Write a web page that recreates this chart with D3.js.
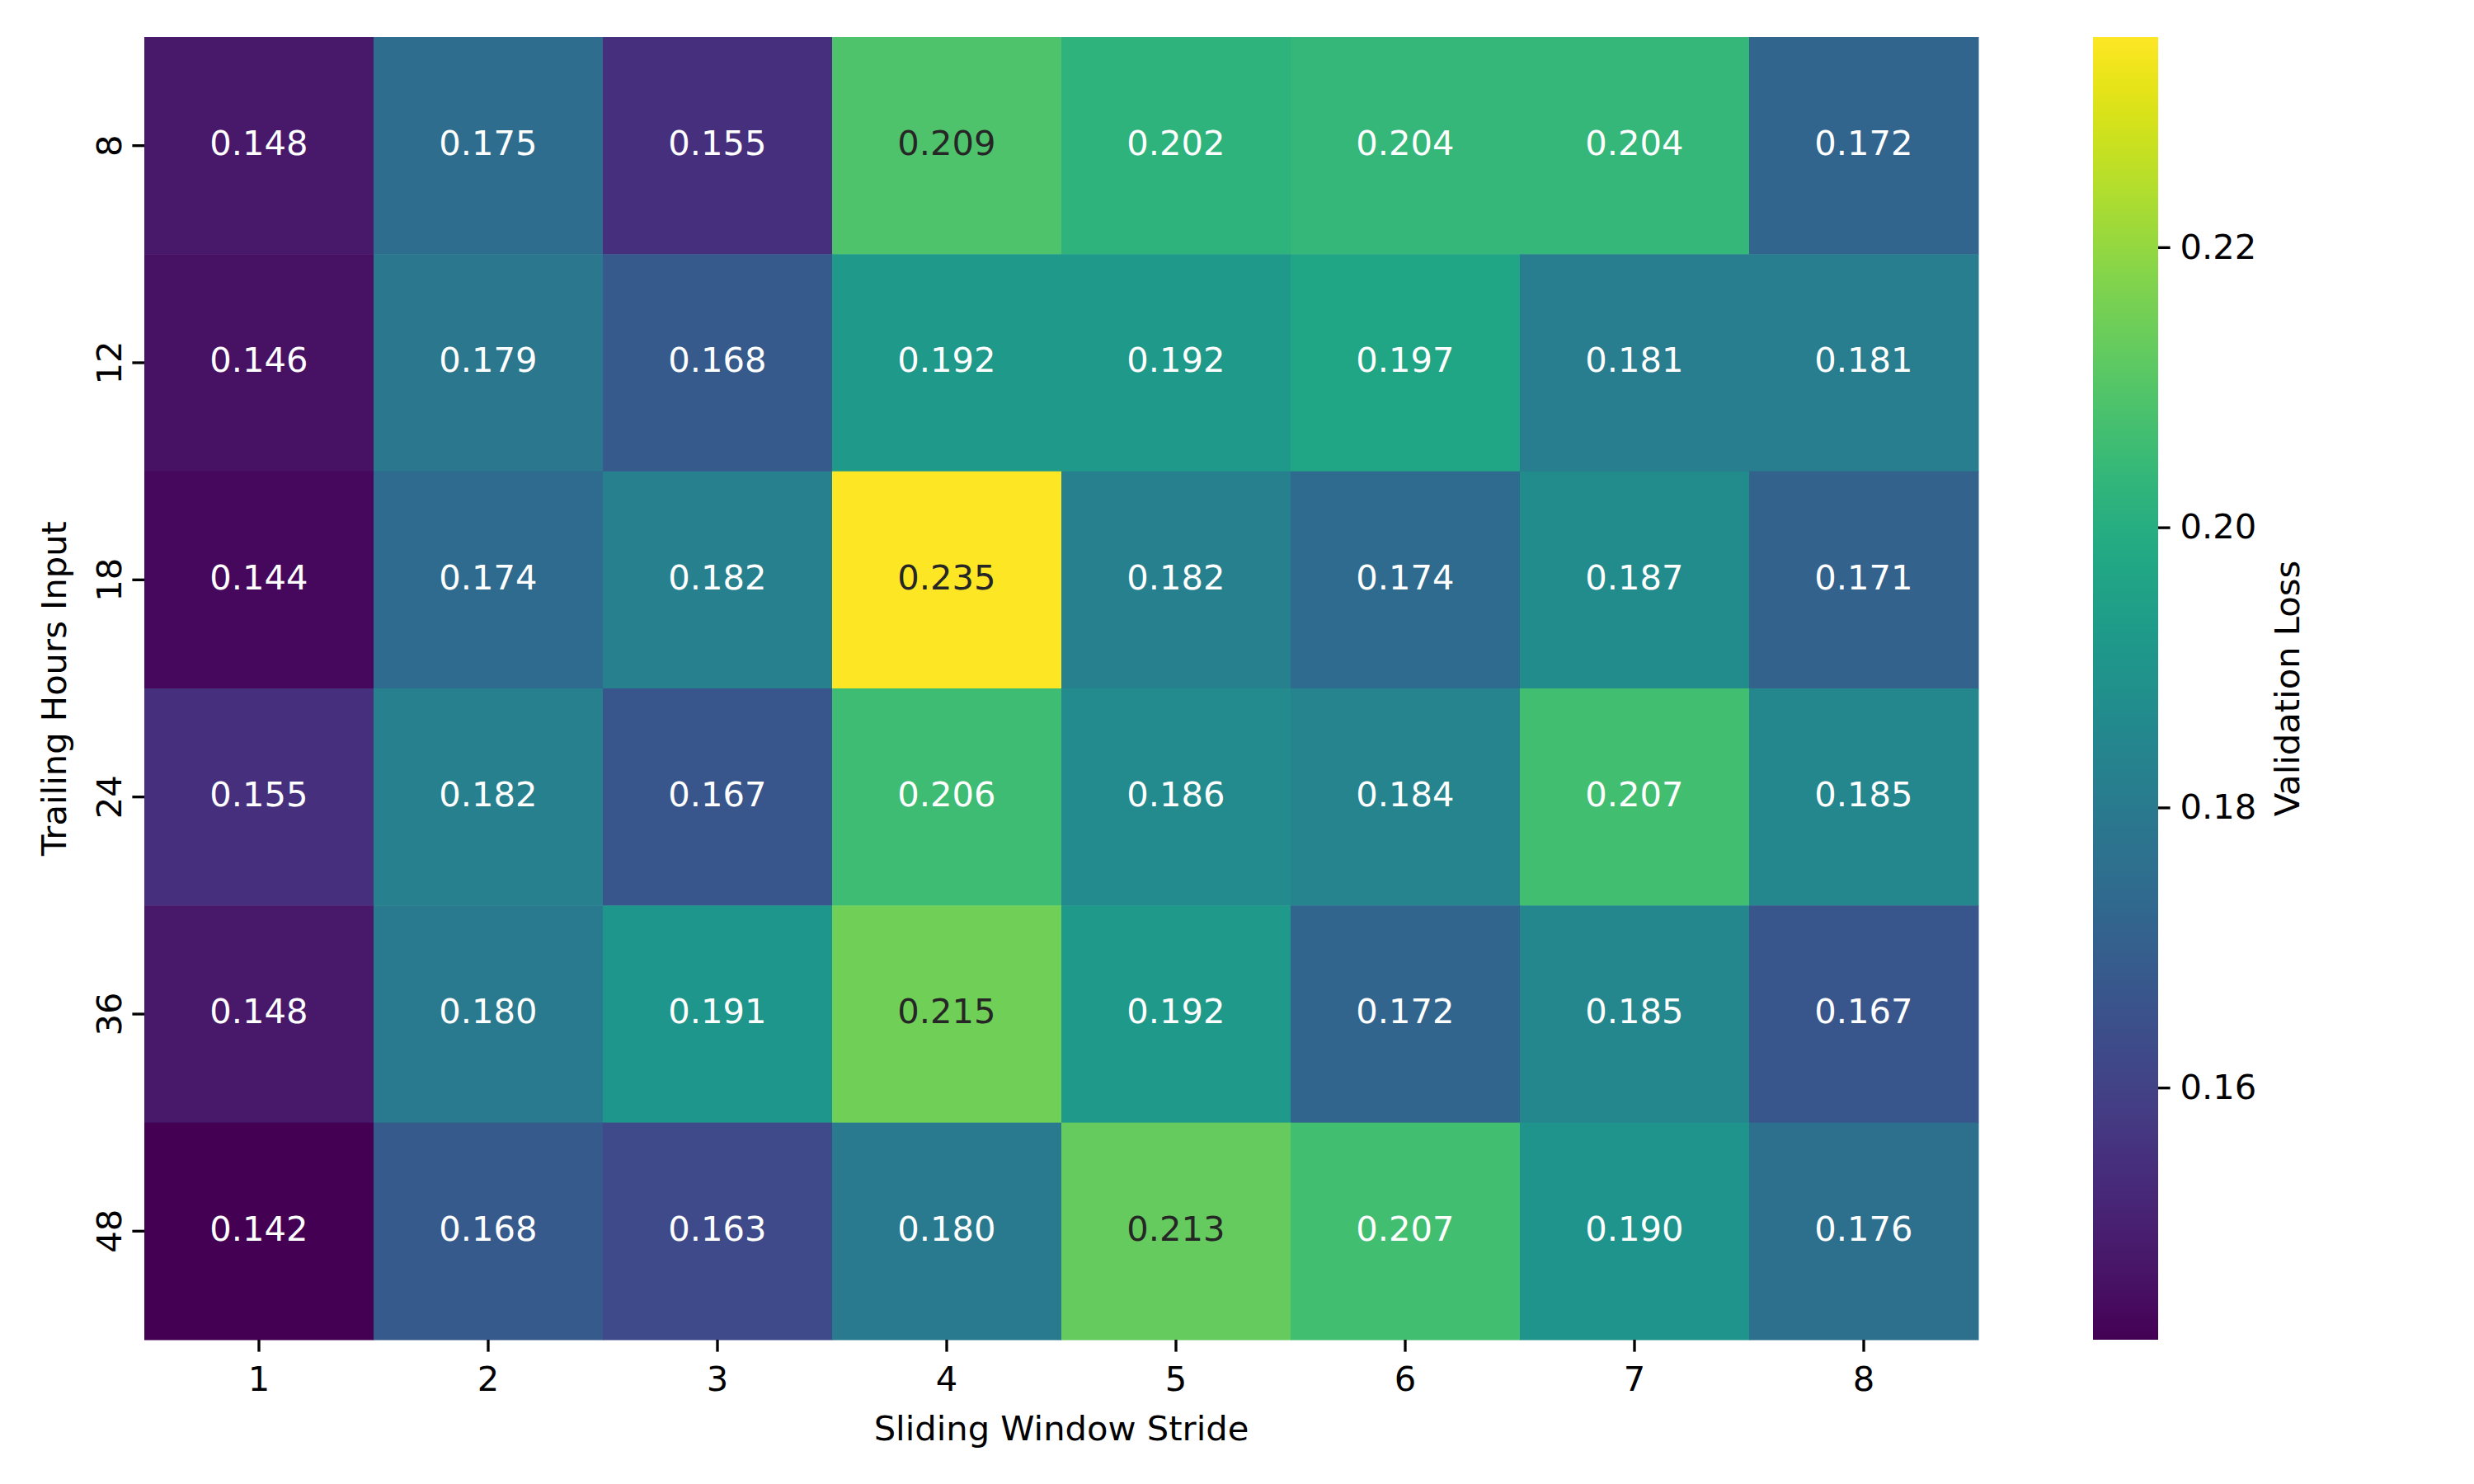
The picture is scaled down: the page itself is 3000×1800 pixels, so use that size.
<!DOCTYPE html>
<html><head><meta charset="utf-8">
<script src="https://cdn.jsdelivr.net/npm/d3@7"></script>
<style>body{margin:0;background:#fff}text{font-family:"DejaVu Sans",sans-serif}</style>
</head><body><svg id="c" width="3000" height="1800"></svg>
<script>
const strides = ["1","2","3","4","5","6","7","8"];
const hours = ["8","12","18","24","36","48"];
const row8  = [0.148,0.175,0.155,0.209,0.202,0.204,0.204,0.172];
const row12 = [0.146,0.179,0.168,0.192,0.192,0.197,0.181,0.181];
const row18 = [0.144,0.174,0.182,0.235,0.182,0.174,0.187,0.171];
const row24 = [0.155,0.182,0.167,0.206,0.186,0.184,0.207,0.185];
const row36 = [0.148,0.180,0.191,0.215,0.192,0.172,0.185,0.167];
const row48 = [0.142,0.168,0.163,0.180,0.213,0.207,0.190,0.176];
const colorTicks = [0.16,0.18,0.20,0.22];
const xLabel = "Sliding Window Stride", yLabel = "Trailing Hours Input", cLabel = "Validation Loss";

const rows = [row8,row12,row18,row24,row36,row48];
const cells = [];
rows.forEach((r,i)=>r.forEach((v,j)=>cells.push({h:hours[i],s:strides[j],v})));
const vmin = d3.min(cells,d=>d.v), vmax = d3.max(cells,d=>d.v);

const L=175,R=2399,T=45,B=1625, FS=41.67, TL=14.6, TW=3.33;
const svg = d3.select("#c");
const x = d3.scaleBand().domain(strides).range([L,R]).padding(0);
const y = d3.scaleBand().domain(hours).range([T,B]).padding(0);
const col = d3.scaleSequential(d3.interpolateViridis).domain([vmin,vmax]);

function lum(c){const r=d3.rgb(c);const f=v=>{v/=255;return v<=0.03928?v/12.92:Math.pow((v+0.055)/1.055,2.4)};return 0.2126*f(r.r)+0.7152*f(r.g)+0.0722*f(r.b);}

svg.append("g").selectAll("rect").data(cells).join("rect")
  .attr("x",d=>x(d.s)).attr("y",d=>y(d.h))
  .attr("width",x.bandwidth()+0.5).attr("height",y.bandwidth()+0.5)
  .attr("fill",d=>col(d.v));
svg.append("g").selectAll("text").data(cells).join("text")
  .attr("x",d=>x(d.s)+x.bandwidth()/2).attr("y",d=>y(d.h)+y.bandwidth()/2)
  .attr("text-anchor","middle").attr("dy","0.27em")
  .attr("font-size",FS)
  .attr("fill",d=>lum(col(d.v))>0.408?"#262626":"#ffffff")
  .text(d=>d3.format(".3f")(d.v));

const xa = svg.append("g").attr("transform",`translate(0,${B})`)
  .call(d3.axisBottom(x).tickSize(TL).tickPadding(18));
xa.select(".domain").remove();
xa.selectAll("line").attr("stroke","#000").attr("stroke-width",TW);
xa.selectAll("text").attr("font-size",FS).attr("fill","#000");

const ya = svg.append("g").attr("transform",`translate(${L},0)`)
  .call(d3.axisLeft(y).tickSize(TL).tickPadding(12));
ya.select(".domain").remove();
ya.selectAll("line").attr("stroke","#000").attr("stroke-width",TW);
ya.selectAll("text").attr("font-size",FS).attr("fill","#000")
  .attr("transform",function(d){return `rotate(-90,${-TL-12-15},${y(d)+y.bandwidth()/2})`})
  .attr("x",-TL-12-15).attr("y",d=>y(d)+y.bandwidth()/2).attr("dy","0.32em")
  .attr("text-anchor","middle");
ya.selectAll(".tick").attr("transform",null);
ya.selectAll(".tick line").attr("y1",d=>y(d)+y.bandwidth()/2).attr("y2",d=>y(d)+y.bandwidth()/2).attr("x2",-TL);

svg.append("text").attr("x",(L+R)/2).attr("y",1747).attr("text-anchor","middle")
  .attr("font-size",FS).text(xLabel);
svg.append("text").attr("transform",`translate(65,${(T+B)/2}) rotate(-90)`)
  .attr("text-anchor","middle").attr("dominant-baseline","central").attr("font-size",FS).text(yLabel);

// colorbar
const CL=2538, CR=2617;
const cy = d3.scaleLinear().domain([vmin,vmax]).range([B,T]);
const defs = svg.append("defs");
const grad = defs.append("linearGradient").attr("id","g").attr("x1",0).attr("y1",1).attr("x2",0).attr("y2",0);
d3.range(0,1.0001,0.02).forEach(t=>grad.append("stop").attr("offset",t).attr("stop-color",d3.interpolateViridis(t)));
svg.append("rect").attr("x",CL).attr("y",T).attr("width",CR-CL).attr("height",B-T).attr("fill","url(#g)");
const ca = svg.append("g").attr("transform",`translate(${CR},0)`)
  .call(d3.axisRight(cy).tickValues(colorTicks).tickFormat(d3.format(".2f")).tickSize(TL).tickPadding(12));
ca.select(".domain").remove();
ca.selectAll("line").attr("stroke","#000").attr("stroke-width",TW);
ca.selectAll("text").attr("font-size",FS).attr("fill","#000");
svg.append("text").attr("transform",`translate(2773,${(T+B)/2}) rotate(-90)`)
  .attr("text-anchor","middle").attr("dominant-baseline","central").attr("font-size",FS).text(cLabel);
</script></body></html>
